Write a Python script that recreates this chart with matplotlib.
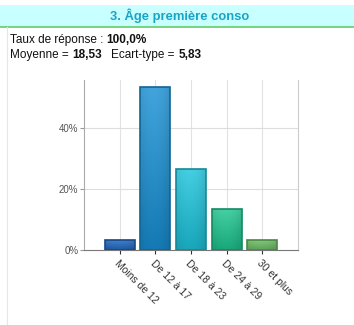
import numpy as np
import matplotlib.pyplot as plt
from matplotlib.colors import to_rgb
from matplotlib.patches import Rectangle

categories = ["Moins de 12", "De 12 à 17", "De 18 à 23", "De 24 à 29", "30 et plus"]
percents = [3.33, 53.33, 26.67, 13.33, 3.33]
bar_colors = ["#1f68c4", "#1890d4", "#1cc4dc", "#1cc58e", "#6cbf64"]
y_ticks = [0, 20, 40]
y_labels = ["0%", "20%", "40%"]

title = "3. Âge première conso"
rate_label, rate_value = "Taux de réponse : ", "100,0%"
mean_label, mean_value = "Moyenne = ", "18,53"
sd_label, sd_value = "Ecart-type = ", "5,83"

W, H = 354, 325
plt.rcParams['font.family'] = ['Liberation Sans', 'DejaVu Sans']
fig = plt.figure(figsize=(W / 100, H / 100), dpi=100)
fig.patch.set_facecolor('white')
renderer = fig.canvas.get_renderer()

def px(x, y):
    return x / W, 1 - y / H

# header band
x0, y0 = px(0, 27)
fig.patches.append(Rectangle((0, y0), 1, 22 / H, transform=fig.transFigure,
                             facecolor='#c8ffff', edgecolor='none'))
fig.lines.append(plt.Line2D([0, 1], [y0, y0], transform=fig.transFigure,
                            color='#66cc66', lw=1.2))
fig.lines.append(plt.Line2D([7 / W, 7 / W], [0, y0], transform=fig.transFigure,
                            color='#d8f0d8', lw=0.8))
fig.text(*px(180, 16), title, ha='center', va='center', fontsize=9.4,
         fontweight='bold', color='#1ba3c6')

# summary lines, pieces placed one after another
fs = 8.5
def run(pieces, x, y):
    for s, weight in pieces:
        t = fig.text(*px(x, y), s, va='center', fontsize=fs,
                     fontweight=weight, color='#111111')
        x += t.get_window_extent(renderer).width

run([(rate_label, 'normal'), (rate_value, 'bold')], 10, 40)
run([(mean_label, 'normal'), (mean_value, 'bold'), ("   ", 'normal'),
     (sd_label, 'normal'), (sd_value, 'bold')], 10, 55)

ax = fig.add_axes([84 / W, 75 / H, 214 / W, 170 / H])
x = np.arange(1, len(categories) + 1)
ax.set_xlim(0, len(categories) + 1)
ax.set_ylim(0, 55.7)

for xi in x:
    ax.axvline(xi, color='#e2e2e2', lw=0.8, zorder=0)
for yt in y_ticks[1:]:
    ax.axhline(yt, color='#dddddd', lw=0.8, zorder=0)

bars = ax.bar(x, percents, width=0.84, color=bar_colors, zorder=2)

# soft shading inside each bar
gx = np.linspace(0, 1, 60)
gy = np.linspace(0, 1, 60)
shade_x = 1 - 0.35 * (gx - 0.45) ** 2
for b, c in zip(bars, bar_colors):
    base = np.array(to_rgb(c))
    light = base + (1 - base) * 0.18
    dark = base * 0.85
    img = np.zeros((len(gy), len(gx), 3))
    for i, t in enumerate(gy):
        row = dark + (light - dark) * t
        img[i] = np.clip(row[None, :] * shade_x[:, None], 0, 1)
    bx, bw, bh = b.get_x(), b.get_width(), b.get_height()
    im = ax.imshow(img, extent=(bx, bx + bw, 0, bh), origin='lower',
                   aspect='auto', zorder=3)
    im.set_clip_path(b)
    ax.add_patch(Rectangle((bx, 0), bw, bh, facecolor='none',
                           edgecolor=tuple(base * 0.7), lw=1.2, zorder=4))

ax.set_xticks(x)
ax.set_xticklabels(categories, rotation=-45, ha='left', va='top',
                   rotation_mode='anchor', fontsize=7.5, color='#333333')
ax.set_yticks(y_ticks)
ax.set_yticklabels(y_labels, fontsize=7, color='#555555')
ax.tick_params(axis='x', length=3, color='#333333', pad=3)
ax.tick_params(axis='y', length=3, color='#999999', pad=1)

ax.spines['top'].set_visible(False)
ax.spines['left'].set_color('#aaaaaa')
ax.spines['right'].set_color('#cccccc')
ax.spines['bottom'].set_color('#777777')

fig.savefig('out.png', dpi=100)
